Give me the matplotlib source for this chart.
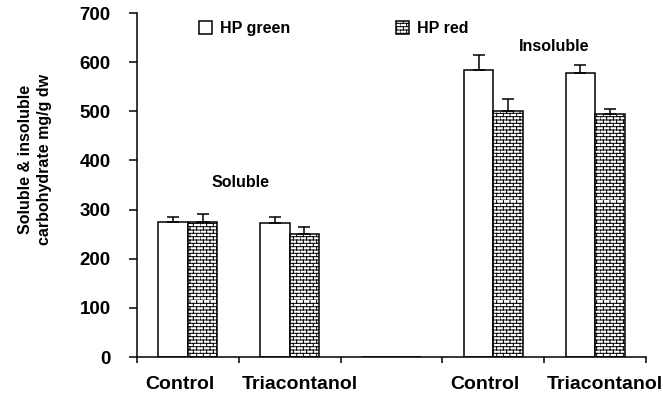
import numpy as np
import matplotlib
matplotlib.use("Agg")
import matplotlib.pyplot as plt
import matplotlib.hatch as mhatch
import matplotlib.transforms as mtrans
from matplotlib.path import Path

# ---- data ----
categories = ['Control', 'Triacontanol', '', 'Control', 'Triacontanol']
hp_green = [274, 272, 0, 585, 578]
hp_green_err = [10, 12, 0, 30, 17]
hp_red = [274, 250, 0, 500, 495]
hp_red_err = [17, 14, 0, 25, 10]
yticks = [0, 100, 200, 300, 400, 500, 600, 700]


# ---- custom brick hatch (replaces 'O' large circles) ----
class BrickHatch(mhatch.HatchPatternBase):
    def __init__(self, hatch, density):
        n = hatch.count('O')
        self.rows = n * density
        self.cols = max(self.rows // 2, 1)
        if n == 0:
            self.num_vertices = 0
        else:
            self.num_vertices = 2 * self.rows + 2 * self.rows * self.cols

    def set_vertices_and_codes(self, vertices, codes):
        R, C = self.rows, self.cols
        h = 1.0 / R
        w = 1.0 / C
        v = []
        for r in range(R):
            y = r * h
            v.append((0.0, y))
            v.append((1.0, y))
        for r in range(R):
            y0 = r * h
            y1 = y0 + h
            off = 0.0 if r % 2 == 0 else w / 2
            for c in range(C):
                xx = c * w + off
                v.append((xx, y0))
                v.append((xx, y1))
        vertices[:] = np.array(v)
        codes[0::2] = Path.MOVETO
        codes[1::2] = Path.LINETO


for i, t in enumerate(mhatch._hatch_types):
    if t is mhatch.LargeCircles:
        mhatch._hatch_types[i] = BrickHatch

plt.rcParams['font.family'] = ['Liberation Sans', 'DejaVu Sans']
plt.rcParams['hatch.linewidth'] = 0.7
plt.rcParams['hatch.color'] = 'black'

fig = plt.figure(figsize=(6.63, 3.95), dpi=100)
ax = fig.add_axes([0.2066, 0.0962, 0.7678, 0.8708])

x = np.arange(len(categories))
w = 0.29
ax.bar(x - w / 2, hp_green, w, color='white', edgecolor='black', linewidth=1.1,
       label='HP green', zorder=2)
ax.bar(x + w / 2, hp_red, w, color='white', edgecolor='black', linewidth=1.1,
       hatch='OOOOO', label='HP red', zorder=2)

mask = np.array(hp_green) > 0
ax.errorbar((x - w / 2)[mask], np.array(hp_green)[mask],
            yerr=[np.zeros(mask.sum()), np.array(hp_green_err)[mask]],
            fmt='none', ecolor='black', elinewidth=1.1, capsize=4, capthick=1.1, zorder=3)
mask = np.array(hp_red) > 0
ax.errorbar((x + w / 2)[mask], np.array(hp_red)[mask],
            yerr=[np.zeros(mask.sum()), np.array(hp_red_err)[mask]],
            fmt='none', ecolor='black', elinewidth=1.1, capsize=4, capthick=1.1, zorder=3)

ax.set_xlim(-0.5, len(categories) - 0.5)
ax.set_ylim(0, 700)
ax.set_yticks(yticks)
ax.set_yticklabels([str(v) for v in yticks], fontsize=13.5, fontweight='bold')
ax.set_xticks(x)
ax.set_xticklabels(categories, fontsize=14, fontweight='bold')
ax.set_xticks(np.arange(len(categories) + 1) - 0.5, minor=True)
ax.tick_params(axis='x', which='major', length=0, pad=14)
ax.tick_params(axis='x', which='minor', length=4.5, width=1.1, direction='out')
ax.tick_params(axis='y', length=6, width=1.1, direction='out', pad=13)

# slight horizontal nudges of the category labels, as in the original
label_shift_px = {'Control': -8, 'Triacontanol': 10}
for lab in ax.get_xticklabels():
    dx = label_shift_px.get(lab.get_text(), 0)
    lab.set_transform(lab.get_transform() +
                      mtrans.ScaledTranslation(dx / 100, 0, fig.dpi_scale_trans))

for s in ['top', 'right']:
    ax.spines[s].set_visible(False)
for s in ['left', 'bottom']:
    ax.spines[s].set_linewidth(1.1)

ax.set_ylabel('Soluble & insoluble\ncarbohydrate mg/g dw', fontsize=11.5,
              fontweight='bold', linespacing=1.4)
ax.yaxis.set_label_coords(-0.166, 0.573)

ax.text(0.52, 356, 'Soluble', ha='center', va='center', fontsize=11.5, fontweight='bold')
ax.text(3.6, 631, 'Insoluble', ha='center', va='center', fontsize=11.5, fontweight='bold')

ax.legend(loc='upper left', bbox_to_anchor=(0.11, 0.995), ncol=2, frameon=False,
          prop={'size': 11.5, 'weight': 'bold'}, handlelength=0.8, handleheight=0.8,
          handletextpad=0.5, columnspacing=6.6, borderaxespad=0)

fig.savefig('out.png', dpi=100)
